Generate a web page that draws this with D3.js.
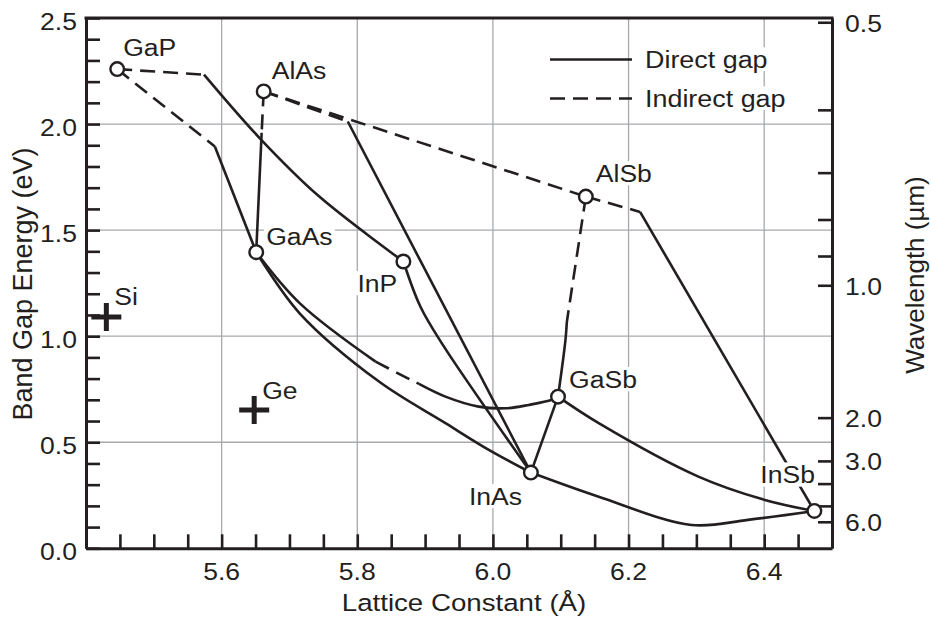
<!DOCTYPE html>
<html>
<head>
<meta charset="utf-8">
<script src="https://cdn.jsdelivr.net/npm/d3@7"></script>
<style>
  body { margin: 0; background: #fff; }
  svg { display: block; }
  text { font-family: "Liberation Sans", Arial, Helvetica, sans-serif; fill: #231f20; }
</style>
</head>
<body>
<svg id="chart" width="931" height="619"></svg>
<script>
// ---- Binary III-V compounds: lattice constant (Å) and band gap (eV) ----
const compounds = ["GaP", "AlAs", "GaAs", "InP", "AlSb", "GaSb", "InAs", "InSb"];
const latticeA  = [5.446, 5.662, 5.651, 5.868, 6.137, 6.096, 6.056, 6.474];
const gapEV     = [2.259, 2.154, 1.396, 1.352, 1.658, 0.715, 0.357, 0.176];

// ---- Elemental semiconductors ----
const elements   = ["Si", "Ge"];
const elementA   = [5.430, 5.648];
const elementGap = [1.090, 0.652];

// ---- Ternary alloy curves, split where the gap changes type ----
// Each entry is a list of points; a string stands for the binary compound.
const directSegments = [
  [[5.590, 1.894], "GaAs"],                                        // GaAsP
  [[5.574, 2.233], [5.656, 1.934], [5.744, 1.658], "InP"],         // GaInP
  [[5.659, 1.959], "GaAs"],                                        // AlGaAs
  [[5.786, 2.012], "InAs"],                                        // AlInAs
  ["InP", [5.893, 1.140], [5.925, 0.965], "InAs"],                 // InAsP
  ["GaAs", [5.715, 1.156], [5.827, 0.880]],                        // GaAsSb
  [[5.891, 0.775], [5.930, 0.715], [5.979, 0.668], [6.019, 0.660], [6.053, 0.676], [6.087, 0.700], "GaSb"],
  ["GaAs", [5.715, 1.108], [5.832, 0.786], [5.930, 0.590], [5.994, 0.464], "InAs"], // InGaAs
  ["GaSb", "InAs"],                                                // GaInAsSb edge
  [[6.109, 1.067], [6.107, 0.983], "GaSb"],                        // AlGaSb
  [[6.217, 1.586], "InSb"],                                        // AlInSb
  ["GaSb", [6.156, 0.590], [6.303, 0.338], [6.401, 0.228], "InSb"], // InGaSb
  ["InAs", [6.156, 0.243], [6.293, 0.110], [6.376, 0.134], "InSb"]  // InAsSb
];
const indirectSegments = [
  ["GaP", [5.590, 1.894]],
  ["GaP", [5.574, 2.233]],
  ["AlAs", [5.659, 1.959]],
  ["AlAs", [5.786, 2.012]],
  ["AlAs", "AlSb"],
  [[5.827, 0.880], [5.860, 0.825], [5.891, 0.775]],
  ["AlSb", [6.109, 1.067]],
  ["AlSb", [6.217, 1.586]]
];

// ---- Axis ticks ----
const xMinorTicks = d3.range(1, 22).map(i => +(5.4 + i * 0.05).toFixed(2));
const xLabelTicks = [5.6, 5.8, 6.0, 6.2, 6.4];
const yMinorTicks = d3.range(0, 26).map(i => +(i / 10).toFixed(1));
const yLabelTicks = [0.0, 0.5, 1.0, 1.5, 2.0, 2.5];
const yGridTicks  = [0.5, 1.0, 1.5, 2.0];
// Wavelength scale on the right (µm), placed at the energies where it is marked
const waveTickEnergy = [2.48, 2.067, 1.771, 1.55, 1.378, 1.24, 0.616, 0.412, 0.305, 0.20, 0.125];
const waveTickLabel  = ["0.5", "", "", "", "", "1.0", "2.0", "3.0", "", "", "6.0"];

const legendItems = [
  { name: "Direct gap",   dash: null },
  { name: "Indirect gap", dash: "15,8" }
];

// ---- Layout ----
const W = 931, H = 619;
const M = { left: 86, right: 832, top: 18, bottom: 548.3 };
const INK = "#231f20", GRID = "#a7a9ac";
const SX = 1.13;          // horizontal widening of the lettering
const FS = 23.5;          // base font size
const DASH = "15,8";

const svg = d3.select("#chart");
svg.append("rect").attr("width", W).attr("height", H).attr("fill", "#fff");

const x = d3.scaleLinear().domain([5.4, 6.5]).range([M.left, M.right]);
const y = d3.scaleLinear().domain([0, 2.5]).range([M.bottom, M.top]);

// gridlines
const grid = svg.append("g").attr("stroke", GRID).attr("stroke-width", 1.3);
grid.selectAll("line.v").data(xLabelTicks).join("line")
  .attr("x1", d => x(d)).attr("x2", d => x(d)).attr("y1", M.top).attr("y2", M.bottom);
grid.selectAll("line.h").data(yGridTicks).join("line")
  .attr("y1", d => y(d)).attr("y2", d => y(d)).attr("x1", M.left).attr("x2", M.right);

// text helper: optionally widened, with white backing box
function addText(parent, px, py, str, o = {}) {
  const sx = o.sx ?? SX;
  const g = parent.append("g")
    .attr("transform", `translate(${px},${py}) rotate(${o.rotate || 0}) scale(${sx},1)`);
  const t = g.append("text")
    .attr("text-anchor", o.anchor || "start")
    .style("font-size", (o.size || FS) + "px")
    .text(str);
  if (o.bg) {
    const b = t.node().getBBox();
    g.insert("rect", "text")
      .attr("x", b.x - 2).attr("y", b.y + 1)
      .attr("width", b.width + 4).attr("height", b.height - 2)
      .attr("fill", "#fff");
  }
  return g;
}

// axes (ticks pointing inward)
function styleAxis(g) {
  g.select(".domain").attr("stroke", INK).attr("stroke-width", 3);
  g.selectAll(".tick line").attr("stroke", INK).attr("stroke-width", 2.6);
}
svg.append("g").attr("transform", `translate(${M.left},0)`)
  .call(d3.axisLeft(y).tickValues(yMinorTicks).tickSize(-14).tickSizeOuter(0).tickFormat(""))
  .call(styleAxis);
svg.append("g").attr("transform", `translate(0,${M.bottom})`)
  .call(d3.axisBottom(x).tickValues(xMinorTicks).tickSize(-14).tickSizeOuter(0).tickFormat(""))
  .call(styleAxis);
svg.append("g").attr("transform", `translate(${M.right},0)`)
  .call(d3.axisRight(y).tickValues(waveTickEnergy).tickSize(-14).tickSizeOuter(0).tickFormat(""))
  .call(styleAxis);
svg.append("line")
  .attr("x1", M.left).attr("x2", M.right).attr("y1", M.top).attr("y2", M.top)
  .attr("stroke", INK).attr("stroke-width", 3).attr("stroke-linecap", "square");

// tick labels
const labels = svg.append("g");
yLabelTicks.forEach(v => addText(labels, M.left - 9, y(v) + 12, v.toFixed(1), { anchor: "end" }));
xLabelTicks.forEach(v => addText(labels, x(v), M.bottom + 32, v.toFixed(1), { anchor: "middle" }));
waveTickEnergy.forEach((e, i) => {
  if (waveTickLabel[i]) addText(labels, M.right + 13, y(e) + 9.5, waveTickLabel[i]);
});

// axis titles
addText(labels, (M.left + M.right) / 2 + 5, 611, "Lattice Constant (Å)", { anchor: "middle", size: 24.5 });
addText(labels, 31.5, 284, "Band Gap Energy (eV)", { anchor: "middle", rotate: -90, sx: 1, size: 27 });
addText(labels, 924, 275, "Wavelength (µm)", { anchor: "middle", rotate: -90, sx: 1, size: 26 });

// alloy curves
const pos = {};
compounds.forEach((c, i) => { pos[c] = [latticeA[i], gapEV[i]]; });
const resolve = pts => pts.map(p => typeof p === "string" ? pos[p] : p);
const line = d3.line().x(d => x(d[0])).y(d => y(d[1])).curve(d3.curveCatmullRom.alpha(0.5));

const curves = svg.append("g").attr("fill", "none").attr("stroke", INK)
  .attr("stroke-width", 2.6).attr("stroke-linejoin", "round");
curves.selectAll("path.direct").data(directSegments).join("path")
  .attr("class", "direct").attr("d", d => line(resolve(d)));
curves.selectAll("path.indirect").data(indirectSegments).join("path")
  .attr("class", "indirect").attr("stroke-dasharray", DASH).attr("d", d => line(resolve(d)));

// compound labels (pixel offsets from the marker)
const compoundLabelOffset = {
  GaP: [6, -13], AlAs: [8, -12], GaAs: [10, -7], InP: [-46, 30],
  AlSb: [10, -15], GaSb: [11, -9], InAs: [-62, 32], InSb: [-54, -28]
};
const elementLabelOffset = { Si: [8, -12], Ge: [8, -11] };
const marks = svg.append("g");
compounds.forEach((c, i) => {
  const [dx, dy] = compoundLabelOffset[c];
  addText(marks, x(latticeA[i]) + dx, y(gapEV[i]) + dy, c, { bg: true });
});
elements.forEach((e, i) => {
  const [dx, dy] = elementLabelOffset[e];
  addText(marks, x(elementA[i]) + dx, y(elementGap[i]) + dy, e, { bg: true });
});

// elemental crosses
const cross = marks.append("g").attr("stroke", INK).attr("stroke-width", 5);
elements.forEach((e, i) => {
  const cx = x(elementA[i]), cy = y(elementGap[i]);
  cross.append("path").attr("d", `M${cx - 15},${cy}H${cx + 15}M${cx},${cy - 14}V${cy + 14}`);
});

// compound markers
marks.selectAll("circle").data(compounds).join("circle")
  .attr("cx", (d, i) => x(latticeA[i])).attr("cy", (d, i) => y(gapEV[i]))
  .attr("r", 6.8).attr("fill", "#fff").attr("stroke", INK).attr("stroke-width", 2.4);

// legend
const legend = svg.append("g");
legendItems.forEach((it, i) => {
  const ly = 59.5 + i * 39;
  legend.append("line").attr("x1", 550).attr("x2", 632).attr("y1", ly).attr("y2", ly)
    .attr("stroke", INK).attr("stroke-width", 2.6).attr("stroke-dasharray", it.dash);
  addText(legend, 645, ly + 8, it.name, { bg: true, size: 23, sx: 1.17 });
});
</script>
</body>
</html>
